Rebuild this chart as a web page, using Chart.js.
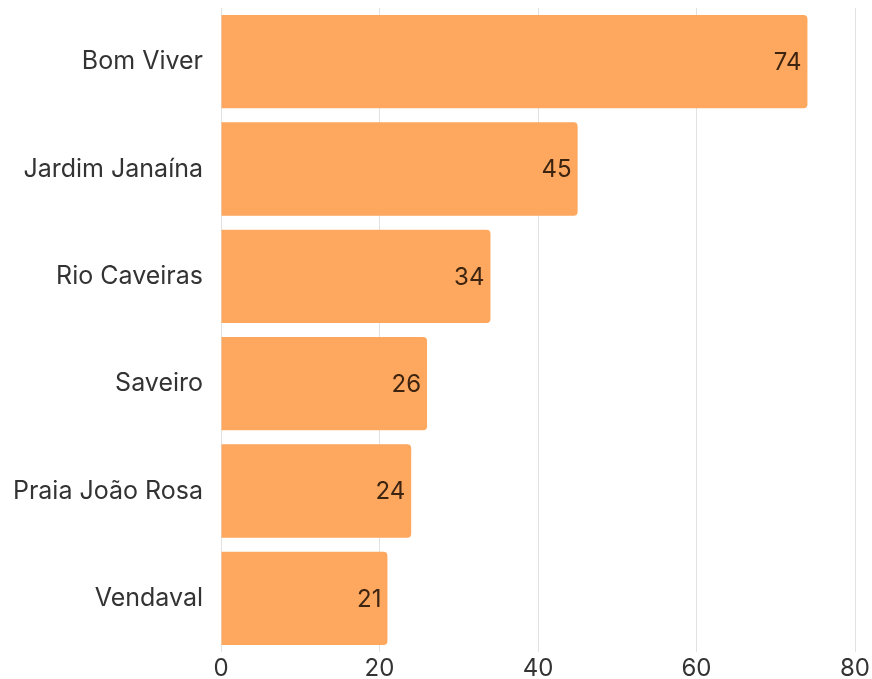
<!DOCTYPE html>
<html>
<head>
<meta charset="utf-8">
<script src="https://cdn.jsdelivr.net/npm/chart.js@4"></script>
<style>
  html, body { margin: 0; padding: 0; background: #fff; overflow: hidden; }
  canvas { display: block; }
</style>
</head>
<body>
<canvas id="chart" width="872" height="679"></canvas>
<script>
// Data
const bairros = ['Bom Viver', 'Jardim Janaína', 'Rio Caveiras', 'Saveiro', 'Praia João Rosa', 'Vendaval'];
const valores = [74, 45, 34, 26, 24, 21];
const xTicks = [0, 20, 40, 60, 80];

const fontFamily = 'Inter';

// value labels drawn at the inner end of each bar
const valueLabels = {
    id: 'valueLabels',
    afterDatasetsDraw(chart) {
        const ctx = chart.ctx;
        const meta = chart.getDatasetMeta(0);
        ctx.save();
        ctx.font = '24px ' + fontFamily;
        ctx.fillStyle = '#3d2410';
        ctx.textAlign = 'right';
        ctx.textBaseline = 'middle';
        meta.data.forEach((bar, i) => {
            ctx.fillText(String(valores[i]), bar.x - 6, bar.y + 1);
        });
        ctx.restore();
    }
};

const config = {
    type: 'bar',
    data: {
        labels: bairros,
        datasets: [{
            data: valores,
            backgroundColor: '#fda75f',
            borderRadius: 4,
            borderSkipped: 'start',
            categoryPercentage: 0.87,
            barPercentage: 1,
        }]
    },
    options: {
        indexAxis: 'y',
        responsive: false,
        animation: false,
        layout: { padding: { top: 8, right: 17, bottom: 0, left: 0 } },
        plugins: {
            legend: { display: false },
            tooltip: { enabled: false },
        },
        scales: {
            x: {
                min: 0,
                max: 80,
                afterBuildTicks(axis) {
                    axis.ticks = xTicks.map(v => ({ value: v }));
                },
                afterFit(axis) {
                    axis.height = 27;
                    axis.paddingLeft = 0;
                    axis.paddingRight = 0;
                },
                grid: { color: '#e2e2e2', drawTicks: false },
                border: { display: false },
                ticks: {
                    padding: 2,
                    color: '#333',
                    font: { family: fontFamily, size: 24 },
                },
            },
            y: {
                grid: { display: false },
                border: { display: false },
                afterFit(axis) {
                    axis.width = 221;
                    axis.paddingTop = 0;
                    axis.paddingBottom = 0;
                },
                ticks: {
                    padding: 10,
                    color: '#333',
                    font: { family: fontFamily, size: 25 },
                },
            },
        },
    },
    plugins: [valueLabels],
};

new Chart(document.getElementById('chart').getContext('2d'), config);
</script>
</body>
</html>
